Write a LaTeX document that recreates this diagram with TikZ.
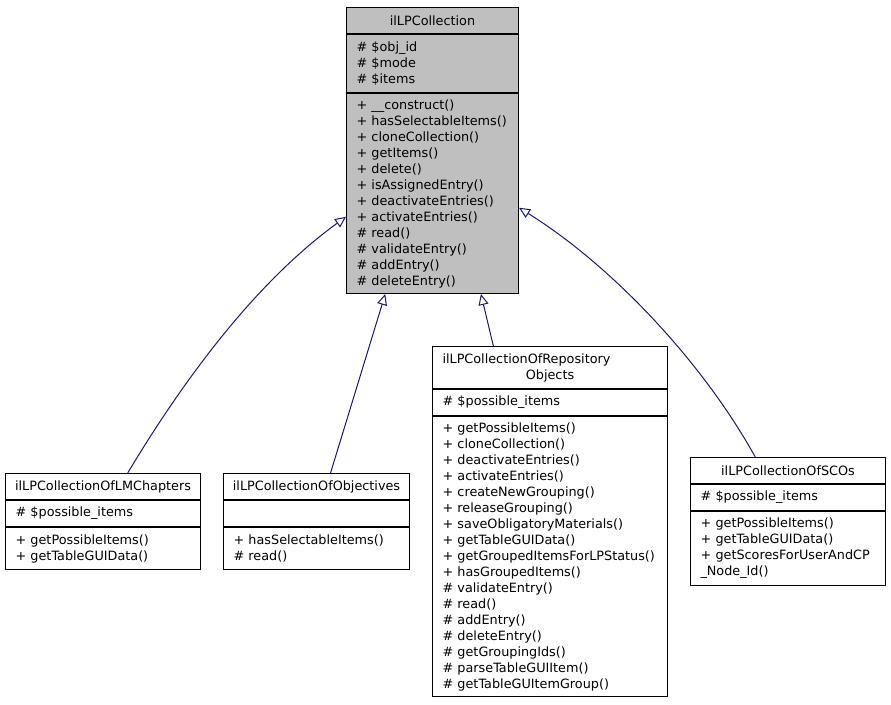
\documentclass[tikz,border=0pt]{standalone}
\usepackage{fontspec}
\setmainfont{DejaVu Sans}
\usepackage{xcolor}
\usepackage{tikz}
\usetikzlibrary{arrows.meta, positioning, calc}

\definecolor{edgeblue}{HTML}{191970}
\definecolor{basegray}{HTML}{BFBFBF}
\newcommand{\umlfont}{\fontsize{9.6}{12}\selectfont\hyphenpenalty=10000 }

\tikzset{
  classtitle/.style={draw=black, line width=0.75pt, fill=white, font=\umlfont, align=center, inner sep=2pt},
  classpart/.style={draw=black, line width=0.75pt, fill=white, font=\umlfont, align=left, inner xsep=7.5pt, inner ysep=2pt},
  inherit/.style={draw=edgeblue, line width=0.75pt, -{Triangle[open, length=8.25pt, width=7.5pt]}},
}

\begin{document}
\begin{tikzpicture}[x=0.75pt, y=-0.75pt]
        \useasboundingbox (0,0) rectangle (891,704);

        % --- ilLPCollection ---
        \node[classtitle, fill=basegray, minimum width=129pt, minimum height=19.5pt, anchor=north west] (base) at (346,7) {ilLPCollection};
        \node[classpart, fill=basegray, text width=114pt, minimum height=43.5pt, below=0pt of base] (baseattr)
            {\# \$obj\_id\\\# \$mode\\\# \$items};
        \node[classpart, fill=basegray, text width=114pt, minimum height=150pt, below=0pt of baseattr] (basemeth)
            {+ \_\_construct()\\+ hasSelectableItems()\\+ cloneCollection()\\+ getItems()\\+ delete()\\+ isAssignedEntry()\\+ deactivateEntries()\\+ activateEntries()\\\# read()\\\# validateEntry()\\\# addEntry()\\\# deleteEntry()};

        % --- ilLPCollectionOfLMChapters ---
        \node[classtitle, minimum width=146.25pt, minimum height=19.5pt, anchor=north west] (lmc) at (5,473) {ilLPCollectionOfLMChapters};
        \node[classpart, text width=131.25pt, minimum height=19.5pt, below=0pt of lmc] (lmcattr) {\# \$possible\_items};
        \node[classpart, text width=131.25pt, minimum height=31.5pt, below=0pt of lmcattr] (lmcmeth)
            {+ getPossibleItems()\\+ getTableGUIData()};

        % --- ilLPCollectionOfObjectives ---
        \node[classtitle, minimum width=139.5pt, minimum height=19.5pt, anchor=north west] (obj) at (223,473) {ilLPCollectionOfObjectives};
        \node[classpart, text width=124.5pt, minimum height=19.5pt, below=0pt of obj] (objattr) {};
        \node[classpart, text width=124.5pt, minimum height=31.5pt, below=0pt of objattr] (objmeth)
            {+ hasSelectableItems()\\\# read()};

        % --- ilLPCollectionOfRepositoryObjects ---
        \node[classpart, text width=161.25pt, minimum height=31.5pt, anchor=north west] (repo) at (432,346)
            {ilLPCollectionOfRepository\\\makebox[\hsize]{Objects}};
        \node[classpart, text width=161.25pt, minimum height=19.5pt, below=0pt of repo] (repoattr) {\# \$possible\_items};
        \node[classpart, text width=161.25pt, minimum height=210pt, below=0pt of repoattr] (repometh)
            {+ getPossibleItems()\\+ cloneCollection()\\+ deactivateEntries()\\+ activateEntries()\\+ createNewGrouping()\\+ releaseGrouping()\\+ saveObligatoryMaterials()\\+ getTableGUIData()\\+ getGroupedItemsForLPStatus()\\+ hasGroupedItems()\\\# validateEntry()\\\# read()\\\# addEntry()\\\# deleteEntry()\\\# getGroupingIds()\\\# parseTableGUIItem()\\\# getTableGUItemGroup()};

        % --- ilLPCollectionOfSCOs ---
        \node[classtitle, minimum width=146.25pt, minimum height=19.5pt, anchor=north west] (sco) at (690,457) {ilLPCollectionOfSCOs};
        \node[classpart, text width=131.25pt, minimum height=19.5pt, below=0pt of sco] (scoattr) {\# \$possible\_items};
        \node[classpart, text width=131.25pt, minimum height=55.5pt, below=0pt of scoattr] (scometh)
            {+ getPossibleItems()\\+ getTableGUIData()\\+ getScoresForUserAndCP\\\_Node\_Id()};

        % --- Inheritance ---
        \draw[inherit] ($(lmc.north west)!0.626!(lmc.north east)$) .. controls (184,379) and (256,282) .. ($(basemeth.north west)!0.616!(basemeth.south west)$);
        \draw[inherit] ($(obj.north west)!0.575!(obj.north east)$) -- ($(basemeth.south west)!0.227!(basemeth.south east)$);
        \draw[inherit] ($(repo.north west)!0.26!(repo.north east)$) -- ($(basemeth.south west)!0.78!(basemeth.south east)$);
        \draw[inherit] ($(sco.north west)!0.333!(sco.north east)$) .. controls (702,361) and (611,265) .. ($(basemeth.north east)!0.571!(basemeth.south east)$);
    \end{tikzpicture}
\end{document}
